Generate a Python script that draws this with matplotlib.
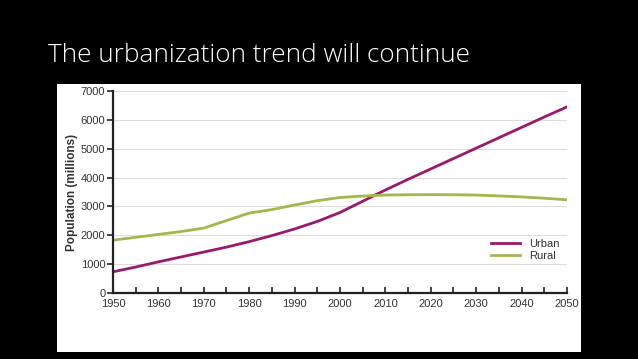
import matplotlib.pyplot as plt
from matplotlib.patches import Rectangle
import numpy as np

# Data (population in millions)
years = [1950, 1955, 1960, 1965, 1970, 1975, 1980, 1985, 1990, 1995, 2000,
         2005, 2010, 2015, 2020, 2025, 2030, 2035, 2040, 2045, 2050]
urban = [735, 900, 1080, 1250, 1420, 1590, 1780, 1990, 2220, 2480, 2790,
         3180, 3570, 3940, 4300, 4660, 5020, 5380, 5740, 6100, 6450]
rural = [1830, 1930, 2030, 2130, 2250, 2510, 2770, 2890, 3050, 3200, 3310,
         3360, 3395, 3405, 3410, 3405, 3395, 3365, 3330, 3285, 3230]
title = 'The urbanization trend will continue'

fig = plt.figure(figsize=(6.38, 3.59), dpi=100, facecolor='black')

# white picture area on the black slide
fig.patches.append(Rectangle((0.0893, 0.0195), 0.821, 0.7465, transform=fig.transFigure,
                             facecolor='white', edgecolor='none', zorder=-5))

fig.text(0.075, 0.827, title, color='white', fontsize=18.8, family='Open Sans',
         fontweight='light', ha='left', va='baseline')

ax = fig.add_axes([0.1771, 0.1838, 0.7116, 0.5627], zorder=2)
ax.set_facecolor('white')

ax.plot(years, urban, color='#9a1a6a', lw=2.0, label='Urban')
ax.plot(years, rural, color='#a4b64c', lw=2.0, label='Rural')

ax.set_xlim(1950, 2050)
ax.set_ylim(0, 7000)
ax.set_xticks(np.arange(1950, 2051, 10))
ax.set_xticks(np.arange(1955, 2050, 10), minor=True)
ax.set_yticks(np.arange(0, 7001, 1000))
ax.grid(axis='y', color='#dddddd', lw=0.8)
ax.set_axisbelow(True)

for s in ['top', 'right']:
    ax.spines[s].set_visible(False)
for s in ['left', 'bottom']:
    ax.spines[s].set_linewidth(1.6)
    ax.spines[s].set_color('#222222')

ax.tick_params(axis='x', which='both', direction='in', length=4, width=1.2,
               labelsize=8, pad=4, colors='#222222')
ax.tick_params(axis='y', direction='out', length=4, width=1.2, labelsize=8,
               pad=1.5, colors='#222222')
for lab in ax.get_xticklabels() + ax.get_yticklabels():
    lab.set_family('Liberation Sans')
    lab.set_color('#333333')

ax.set_ylabel('Population (millions)', fontsize=8.5, fontweight='bold',
              family='Liberation Sans', color='#333333', labelpad=2)

leg = ax.legend(loc='lower right', bbox_to_anchor=(1.0, 0.12), frameon=False,
                handlelength=2.6, labelspacing=0.2, borderpad=0.2,
                prop={'family': 'Liberation Sans', 'size': 8})
for t in leg.get_texts():
    t.set_color('#333333')

plt.savefig('out.png', dpi=100, facecolor='black')
